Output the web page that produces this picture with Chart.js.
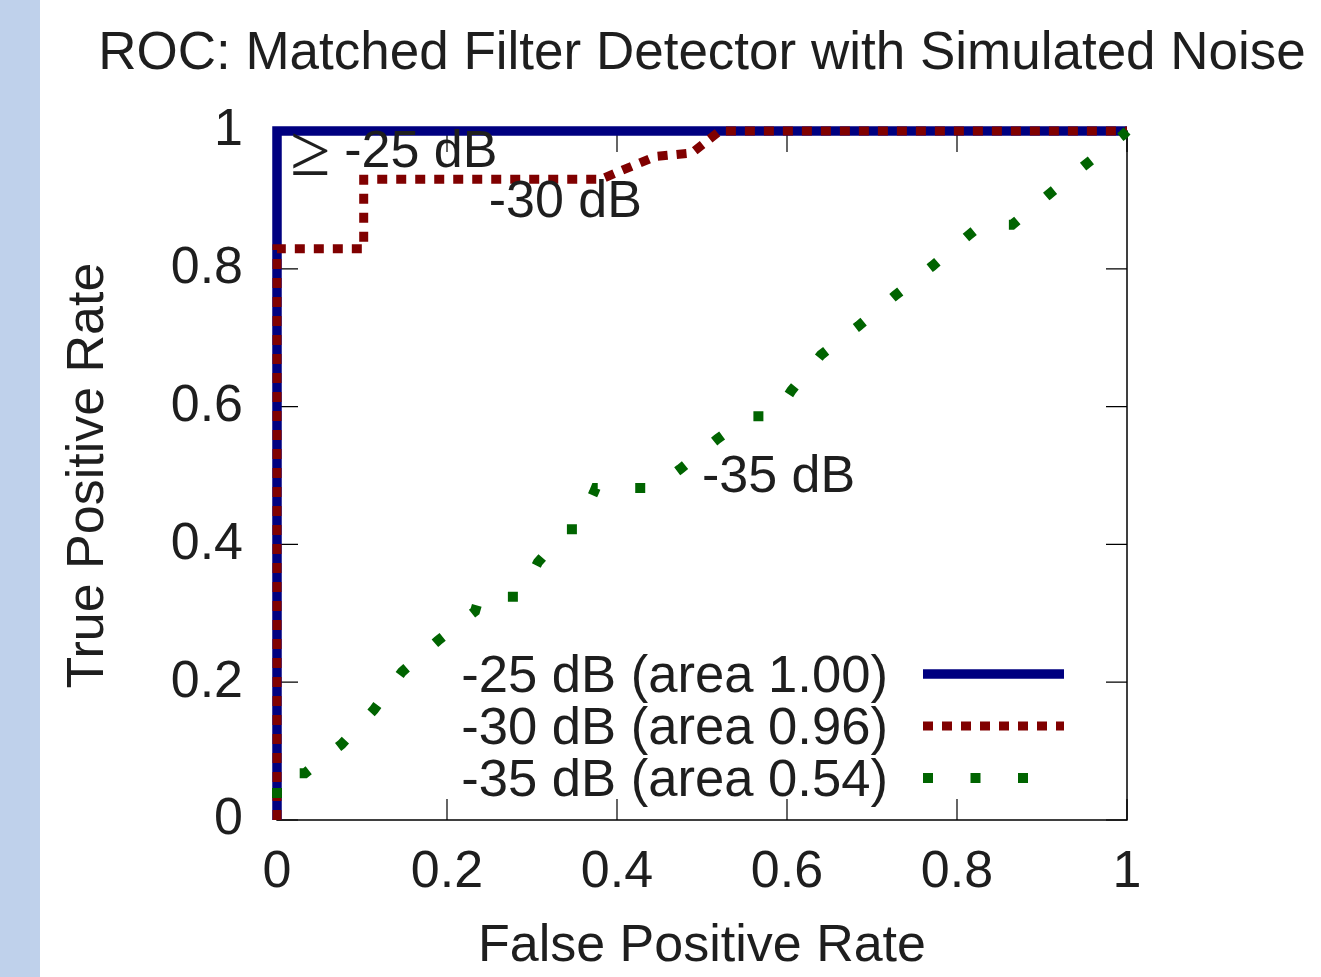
<!DOCTYPE html>
<html>
<head>
<meta charset="utf-8">
<script src="https://cdn.jsdelivr.net/npm/chart.js@4.4.1/dist/chart.umd.min.js"></script>
<style>
  html, body { margin: 0; padding: 0; background: #fff; }
  #wrap { width: 1321px; height: 977px; position: relative; }
</style>
</head>
<body>
<div id="wrap"><canvas id="roc"></canvas></div>
<script>
// ROC curves
var fpr25 = [0, 0, 1];
var tpr25 = [0, 1, 1];

var fpr30 = [0, 0, 0.102, 0.102, 0.381, 0.445, 0.488, 0.521, 1];
var tpr30 = [0, 0.829, 0.829, 0.930, 0.930, 0.963, 0.968, 1, 1];

var fpr35 = [0, 0, 0.033, 0.076, 0.114, 0.147, 0.189, 0.233, 0.238, 0.286, 0.307, 0.341,
             0.353, 0.373, 0.375, 0.445, 0.474, 0.518, 0.555, 0.586, 0.605, 0.640, 0.684,
             0.727, 0.771, 0.813, 0.829, 0.865, 0.907, 0.952, 0.995, 1];
var tpr35 = [0.032, 0.068, 0.068, 0.110, 0.160, 0.215, 0.260, 0.303, 0.324, 0.324, 0.374, 0.422,
             0.422, 0.476, 0.482, 0.482, 0.509, 0.553, 0.586, 0.586, 0.623, 0.675, 0.717,
             0.761, 0.804, 0.848, 0.864, 0.864, 0.907, 0.952, 0.994, 1];

var tickValues = [0, 0.2, 0.4, 0.6, 0.8, 1];
var tickLabels = ['0', '0.2', '0.4', '0.6', '0.8', '1'];
var seriesLabels = ['-25 dB (area 1.00)', '-30 dB (area 0.96)', '-35 dB (area 0.54)'];

// curve notes inside the plot (data coords of text start / baseline)
var noteText = ['\u2265 -25 dB', '-30 dB', '-35 dB'];
var noteX = [0.019, 0.249, 0.5];
var noteY = [0.948, 0.875, 0.476];

var FONT = "'Liberation Sans', Arial, Helvetica, sans-serif";
var TXT = '#1e1e1e';

function pts(xs, ys) {
  return xs.map(function (x, i) { return { x: x, y: ys[i] }; });
}

var decor = {
  id: 'decor',
  beforeDraw: function (chart) {
    var c = chart.ctx;
    c.save();
    c.fillStyle = '#bfd1eb';
    c.fillRect(0, 0, 40, chart.height);
    c.fillStyle = TXT;
    c.font = '53px ' + FONT;
    c.textAlign = 'center';
    c.textBaseline = 'alphabetic';
    var a = chart.chartArea;
    c.fillText('ROC: Matched Filter Detector with Simulated Noise', (a.left + a.right) / 2, 69);
    c.restore();
  },
  beforeDatasetsDraw: function (chart) {
    var c = chart.ctx, a = chart.chartArea;
    var xs = chart.scales.x, ys = chart.scales.y;
    c.save();
    c.strokeStyle = '#000';
    c.lineWidth = 1.5;
    c.strokeRect(a.left, a.top, a.right - a.left, a.bottom - a.top);
    c.lineWidth = 1.2;
    c.beginPath();
    tickValues.forEach(function (v) {
      var px = xs.getPixelForValue(v), py = ys.getPixelForValue(v);
      c.moveTo(px, a.bottom); c.lineTo(px, a.bottom - 21);
      c.moveTo(px, a.top); c.lineTo(px, a.top + 21);
      c.moveTo(a.left, py); c.lineTo(a.left + 21, py);
      c.moveTo(a.right, py); c.lineTo(a.right - 21, py);
    });
    c.stroke();
    c.restore();
  },
  afterDatasetsDraw: function (chart) {
    var c = chart.ctx;
    var xs = chart.scales.x, ys = chart.scales.y;
    c.save();
    c.fillStyle = TXT;
    c.textBaseline = 'alphabetic';
    c.textAlign = 'left';
    noteText.forEach(function (t, i) {
      var x = xs.getPixelForValue(noteX[i]), y = ys.getPixelForValue(noteY[i]);
      if (t.charAt(0) === '\u2265') {
        // thin, larger "greater or equal" sign like the symbol font
        c.font = "73px 'Noto Sans'";
        c.fillText(t.charAt(0), x - 3, y + 8);
        t = t.slice(2);
        x += 51;
      }
      c.font = '52px ' + FONT;
      c.fillText(t, x, y);
    });
    // key, text right aligned with the sample to its right
    var ds = chart.data.datasets;
    var keyRight = 888, x0 = 923, x1 = 1064, base0 = 692, step = 52;
    c.font = '52.6px ' + FONT;
    ds.forEach(function (d, i) {
      var base = base0 + i * step;
      c.fillStyle = TXT;
      c.textAlign = 'right';
      c.fillText(d.label, keyRight, base);
      c.strokeStyle = d.borderColor;
      c.lineWidth = d.borderWidth;
      c.lineCap = 'butt';
      c.setLineDash(d.borderDash || []);
      c.beginPath();
      c.moveTo(x0, base - 18);
      c.lineTo(x1, base - 18);
      c.stroke();
    });
    c.restore();
  }
};

new Chart(document.getElementById('roc'), {
  type: 'scatter',
  data: {
    datasets: [
      {
        label: seriesLabels[0],
        data: pts(fpr25, tpr25),
        showLine: true,
        borderColor: '#000080',
        borderWidth: 9.5,
        pointRadius: 0,
        clip: false,
        order: 3
      },
      {
        label: seriesLabels[1],
        data: pts(fpr30, tpr30),
        showLine: true,
        borderColor: '#800000',
        borderWidth: 9,
        borderDash: [10, 9],
        pointRadius: 0,
        clip: false,
        order: 2
      },
      {
        label: seriesLabels[2],
        data: pts(fpr35, tpr35),
        showLine: true,
        borderColor: '#006400',
        borderWidth: 10,
        borderDash: [10, 37.5],
        pointRadius: 0,
        clip: false,
        order: 1
      }
    ]
  },
  options: {
    responsive: true,
    maintainAspectRatio: false,
    animation: false,
    layout: { padding: { left: 0, top: 131, right: 194, bottom: 0 } },
    plugins: {
      legend: { display: false },
      tooltip: { enabled: false },
      title: { display: false }
    },
    scales: {
      x: {
        type: 'linear',
        min: 0,
        max: 1,
        afterBuildTicks: function (s) { s.ticks = tickValues.map(function (v) { return { value: v }; }); },
        afterFit: function (s) { s.height = 157; },
        grid: { display: false, drawTicks: false },
        border: { display: false },
        ticks: {
          color: TXT,
          padding: 21,
          font: { family: FONT, size: 52, lineHeight: 1.2 },
          maxRotation: 0,
          callback: function (v, i) { return tickLabels[i]; }
        },
        title: {
          display: true,
          text: 'False Positive Rate',
          color: TXT,
          font: { family: FONT, size: 52, lineHeight: 1.15 },
          padding: { top: 0, bottom: 0 }
        }
      },
      y: {
        type: 'linear',
        min: 0,
        max: 1,
        afterBuildTicks: function (s) { s.ticks = tickValues.map(function (v) { return { value: v }; }); },
        afterFit: function (s) { s.width = 277; },
        grid: { display: false, drawTicks: false },
        border: { display: false },
        ticks: {
          color: TXT,
          padding: 34,
          font: { family: FONT, size: 52, lineHeight: 1.2 },
          callback: function (v, i) { return tickLabels[i]; }
        },
        title: {
          display: true,
          text: 'True Positive Rate',
          color: TXT,
          font: { family: FONT, size: 52, lineHeight: 1.2 },
          padding: { top: 57, bottom: 0 }
        }
      }
    }
  },
  plugins: [decor]
});
</script>
</body>
</html>
